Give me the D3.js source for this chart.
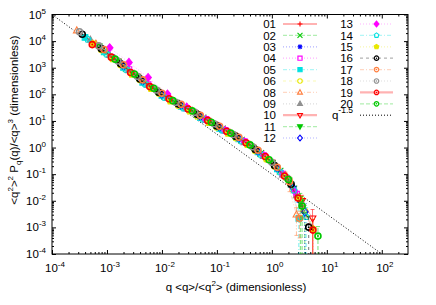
<!DOCTYPE html>
<html>
<head>
<meta charset="utf-8">
<script src="https://cdn.jsdelivr.net/npm/d3@7"></script>
<style>
  body { margin: 0; background: #fff; }
  text { font-family: "Liberation Sans", Arial, sans-serif; fill: #000; }
</style>
</head>
<body>
<div id="chart"></div>
<script>
// values, [x, y, optional error]
const s01 = [[6.3e-4,7.9e3],[1.41e-3,2.0e3],[3.16e-3,5.5e2],[7.1e-3,1.6e2],[1.58e-2,55],[3.55e-2,23],[7.9e-2,8.5],[0.178,3.3],[0.40,1.2],[0.89,0.34],[2.0,0.06],[3.55,6.3e-3]];
const s02 = [[1.0e-3,3.6e3],[2.24e-3,9.5e2],[5.0e-3,2.7e2],[1.12e-2,85],[2.51e-2,34],[5.6e-2,13],[0.126,5.0],[0.28,1.9],[0.63,0.60],[1.41,0.13],[2.51,0.028],[3.98,3.2e-3,3.5e-3]];
const s03 = [[1.26e-3,2.5e3],[2.82e-3,6.6e2],[6.3e-3,1.9e2],[1.41e-2,63],[3.16e-2,26],[7.1e-2,9.8],[0.158,3.8],[0.355,1.4],[0.79,0.42],[1.78,0.078],[3.16,0.0105]];
const s04 = [[2.51e-3,8.5e2],[5.6e-3,2.3e2],[1.26e-2,76],[2.82e-2,30],[6.3e-2,11.5],[0.141,4.4],[0.316,1.66],[0.71,0.50],[1.58,0.10],[2.82,0.018]];
const s05 = [[3.98e-4,1.38e4],[8.9e-4,3.9e3],[2.0e-3,1.02e3],[4.47e-3,2.8e2],[1.0e-2,91],[2.24e-2,35],[5.0e-2,13.5],[0.112,5.2],[0.251,2.1],[0.56,0.69],[1.26,0.158],[2.24,0.040],[3.1,2.2e-3,3e-3]];
const s06 = [[7.9e-4,4.7e3],[1.78e-3,1.26e3],[3.98e-3,3.5e2],[8.9e-3,1.07e2],[2.0e-2,38],[4.47e-2,15],[0.10,5.8],[0.224,2.3],[0.50,0.76],[1.12,0.20],[2.24,0.040],[3.98,4.0e-3]];
const s08 = [[2.82e-4,2.5e4],[6.3e-4,7.9e3],[1.41e-3,2.1e3],[3.16e-3,5.8e2],[7.1e-3,1.66e2],[1.58e-2,58],[3.55e-2,24],[7.9e-2,8.9],[0.178,3.5],[0.40,1.26],[0.89,0.35],[1.78,0.089,0.03],[2.8,3.0e-3,2.5e-3]];
const s09 = [[5.0e-4,1.12e4],[1.12e-3,3.0e3],[2.51e-3,7.9e2],[5.6e-3,2.24e2],[1.26e-2,72],[2.82e-2,30],[6.3e-2,11.2],[0.141,4.4],[0.316,1.58],[0.71,0.48],[1.58,0.095],[2.82,0.016]];
const s10 = [[1.58e-3,1.7e3],[3.55e-3,4.6e2],[7.9e-3,1.38e2],[1.78e-2,48],[3.98e-2,20],[8.9e-2,7.4],[0.20,3.0],[0.447,1.0],[1.0,0.27],[2.0,0.056],[3.55,0.010,0.006],[5.5,2.2e-3,2.5e-3]];
const s11 = [[7.1e-4,6.3e3],[1.58e-3,1.7e3],[3.55e-3,4.4e2],[7.9e-3,1.32e2],[1.78e-2,49],[3.98e-2,19],[8.9e-2,7.2],[0.20,2.8],[0.447,0.98],[1.0,0.26],[2.0,0.058],[3.3,8.9e-3,0.01]];
const s12 = [[2.0e-3,1.17e3],[4.47e-3,3.2e2],[1.0e-2,1.0e2],[2.24e-2,38],[5.0e-2,14.8],[0.112,5.8],[0.251,2.24],[0.56,0.71],[1.26,0.166],[2.4,0.032],[3.98,3.8e-3,4e-3]];
const s13 = [[1.12e-3,5.6e3],[2.51e-3,1.58e3],[5.6e-3,4.3e2],[1.26e-2,1.02e2],[2.82e-2,33],[6.3e-2,11.2],[0.141,4.4],[0.316,1.66],[0.71,0.50],[1.58,0.10],[2.63,0.022]];
const s14 = [[4.47e-4,1.17e4],[1.0e-3,3.2e3],[2.24e-3,8.5e2],[5.0e-3,2.4e2],[1.12e-2,76],[2.51e-2,30],[5.6e-2,11.5],[0.126,4.5],[0.28,1.74],[0.63,0.55],[1.41,0.12],[2.51,0.025],[4.2,2.5e-3,3e-3]];
const s15 = [[5.6e-4,8.1e3],[1.26e-3,2.1e3],[2.82e-3,5.6e2],[6.3e-3,1.6e2],[1.41e-2,55],[3.16e-2,23],[7.1e-2,8.5],[0.158,3.4],[0.355,1.26],[0.79,0.37],[1.78,0.078],[3.16,0.0126],[5.6,8.9e-4,1.2e-3]];
const s16 = [[3.55e-4,1.8e4],[7.9e-4,5.2e3],[1.78e-3,1.4e3],[3.98e-3,3.8e2],[8.9e-3,1.17e2],[2.0e-2,43],[4.47e-2,17.4],[0.10,6.5],[0.224,2.6],[0.50,0.85],[1.12,0.21],[2.24,0.042],[4.68,1.02e-3,1.5e-3]];
const s17 = [[8.9e-4,4.8e3],[2.0e-3,1.29e3],[4.47e-3,3.5e2],[1.0e-2,1.1e2],[2.24e-2,42],[5.0e-2,16.2],[0.112,6.3],[0.251,2.45],[0.56,0.79],[1.26,0.18],[2.1,0.052,0.03],[3.2,2.2e-3,1.8e-3]];
const s18 = [[3.16e-4,2.24e4],[7.1e-4,6.6e3],[1.58e-3,1.78e3],[3.55e-3,4.8e2],[7.9e-3,1.45e2],[1.78e-2,50],[3.98e-2,21],[8.9e-2,7.8],[0.20,3.1],[0.447,1.07],[1.0,0.28],[1.9,0.071],[3.55,6.6e-3]];
const s19 = [[5.4e-4,7.4e3],[1.2e-3,2.5e3],[2.69e-3,6.6e2],[6.0e-3,1.95e2],[1.35e-2,68],[3.0e-2,28],[6.8e-2,10.5],[0.151,4.1],[0.339,1.51],[0.76,0.46],[1.70,0.085],[3.0,0.0126],[5.6,7.9e-4,1.2e-3]];
const s20 = [[1.41e-3,2.1e3],[3.16e-3,5.8e2],[7.1e-3,1.7e2],[1.58e-2,58],[3.55e-2,24],[7.9e-2,8.9],[0.178,3.5],[0.40,1.26],[0.89,0.35],[2.0,0.063],[3.55,6.3e-3,8e-3],[6.9,4.7e-4,6e-4]];

const seriesNames = ["01","02","03","04","05","06","08","09","10","11","12","13","14","15","16","17","18","19","20"];
const seriesData = [s01,s02,s03,s04,s05,s06,s08,s09,s10,s11,s12,s13,s14,s15,s16,s17,s18,s19,s20];

// reference power law q^-1.5 (prefactor 0.1)
const refCoef = 0.1, refExp = -1.5;
const refLabel = "q";
const refSup = "-1.5";

const xTickExp = [-4, -3, -2, -1, 0, 1, 2];
const yTickExp = [-4, -3, -2, -1, 0, 1, 2, 3, 4, 5];

// styles (gnuplot-like cycle)
const colors = ["#ff0000","#00c800","#0000ff","#ff00ff","#00e0e0","#e8e800","#ff7f3f","#909090",
                "#ff0000","#00c800","#0000ff","#ff00ff","#00e0e0","#e8e800","#000000","#ff7f3f","#909090","#ff0000","#00c800"];
const shapes = ["plus","cross","star","square","square","circle","triUp","triUp","triDown","triDown",
                "diamond","diamond","pentagon","pentagon","circdot","circdot","circdot","circdot","circdot"];
const filled = [0,0,0,0,1,0,0,1,0,1,0,1,0,1,0,0,0,0,0];
const dashes = [null,"4,2","1,2","1,2","4,2,1,2","3,3","4,2,1,2,1,2","1,2",null,"4,2","1,2","1,2","4,2,1,2","1,2","3,3","4,2,1,2","1,2",null,"4,2"];

const W = 436, H = 305;
const plot = { left: 52, right: 408, top: 14.5, bottom: 254 };

const svg = d3.select("#chart").append("svg")
    .attr("width", W).attr("height", H);

const x = d3.scaleLog().domain([1e-4, 300]).range([plot.left, plot.right]);
const y = d3.scaleLog().domain([1e-4, 1e5]).range([plot.bottom, plot.top]);

svg.append("clipPath").attr("id", "clip")
  .append("rect")
    .attr("x", plot.left).attr("y", plot.top)
    .attr("width", plot.right - plot.left).attr("height", plot.bottom - plot.top);

// --- ticks (inward, mirrored) ---
const majX = xTickExp.map(e => Math.pow(10, e));
const majY = yTickExp.map(e => Math.pow(10, e));
const minX = [], minY = [];
xTickExp.forEach(e => { for (let k = 2; k <= 9; k++) { const v = k * Math.pow(10, e); if (v < 300) minX.push(v); } });
yTickExp.slice(0, -1).forEach(e => { for (let k = 2; k <= 9; k++) minY.push(k * Math.pow(10, e)); });

function tickAxis(axisFn, scale, vals, size, tr) {
  const g = svg.append("g").attr("transform", tr)
    .call(axisFn(scale).tickValues(vals).tickSize(-size).tickFormat(""));
  g.select(".domain").remove();
  g.selectAll("line").attr("stroke", "#000");
}
[[majX, 4], [minX, 2]].forEach(([v, s]) => {
  tickAxis(d3.axisBottom, x, v, s, `translate(0,${plot.bottom})`);
  tickAxis(d3.axisTop, x, v, s, `translate(0,${plot.top})`);
});
[[majY, 4], [minY, 2]].forEach(([v, s]) => {
  tickAxis(d3.axisLeft, y, v, s, `translate(${plot.left},0)`);
  tickAxis(d3.axisRight, y, v, s, `translate(${plot.right},0)`);
});

// border
svg.append("rect")
  .attr("x", plot.left).attr("y", plot.top)
  .attr("width", plot.right - plot.left).attr("height", plot.bottom - plot.top)
  .attr("fill", "none").attr("stroke", "#000").attr("stroke-width", 1);

// tick labels "10^n"
function powLabel(sel, e) {
  sel.append("tspan").text("10");
  sel.append("tspan").attr("dy", -5).attr("font-size", 8).text(e);
}
xTickExp.forEach(e => {
  svg.append("text")
    .attr("x", x(Math.pow(10, e)) + 3).attr("y", 272)
    .attr("text-anchor", "middle").attr("font-size", 11.5)
    .call(powLabel, e);
});
yTickExp.forEach(e => {
  svg.append("text")
    .attr("x", 46).attr("y", y(Math.pow(10, e)) + 4)
    .attr("text-anchor", "end").attr("font-size", 11.5)
    .call(powLabel, e);
});

// axis titles
const xt = svg.append("text").attr("x", 236).attr("y", 291)
  .attr("text-anchor", "middle").attr("font-size", 11.5);
xt.append("tspan").text("q <q>/<q");
xt.append("tspan").attr("dy", -5).attr("font-size", 8).text("2");
xt.append("tspan").attr("dy", 5).text("> (dimensionless)");

const yt = svg.append("text").attr("transform", "translate(18,120) rotate(-90)")
  .attr("text-anchor", "middle").attr("font-size", 11.5);
yt.append("tspan").text("<q");
yt.append("tspan").attr("dy", -5).attr("font-size", 8).text("2");
yt.append("tspan").attr("dy", 5).text(">");
yt.append("tspan").attr("dy", -5).attr("font-size", 8).text("2");
yt.append("tspan").attr("dy", 5).text(" P");
yt.append("tspan").attr("dy", 3).attr("font-size", 8).text("q");
yt.append("tspan").attr("dy", -3).text("(q)/<q>");
yt.append("tspan").attr("dy", -5).attr("font-size", 8).text("3");
yt.append("tspan").attr("dy", 5).text(" (dimensionless)");

// --- markers ---
function markerPath(shape, r) {
  switch (shape) {
    case "plus": return `M${-r},0H${r}M0,${-r}V${r}`;
    case "cross": return `M${-r},${-r}L${r},${r}M${-r},${r}L${r},${-r}`;
    case "star": { const d = r * 0.75; return `M${-r},0H${r}M0,${-r}V${r}M${-d},${-d}L${d},${d}M${-d},${d}L${d},${-d}`; }
    case "square": { const s = r * 0.85; return `M${-s},${-s}H${s}V${s}H${-s}Z`; }
    case "triUp": return `M0,${-r * 1.1}L${r},${r * 0.7}L${-r},${r * 0.7}Z`;
    case "triDown": return `M0,${r * 1.1}L${r},${-r * 0.7}L${-r},${-r * 0.7}Z`;
    case "diamond": return `M0,${-r * 1.2}L${r},0L0,${r * 1.2}L${-r},0Z`;
    case "pentagon": {
      const pts = d3.range(5).map(i => { const a = -Math.PI / 2 + i * 2 * Math.PI / 5; return [r * Math.cos(a), r * Math.sin(a)]; });
      return "M" + pts.map(p => p.join(",")).join("L") + "Z";
    }
    default: return `M${r},0A${r},${r} 0 1 1 ${-r},0A${r},${r} 0 1 1 ${r},0Z`;
  }
}
function drawMarker(g, i, cx, cy, scale) {
  const sh = shapes[i], col = colors[i];
  const r = (sh === "circdot" || sh === "circle" ? 3 : 3.3) * scale;
  g.append("path")
    .attr("transform", `translate(${cx},${cy})`)
    .attr("d", markerPath(sh, r))
    .attr("fill", filled[i] ? col : "none")
    .attr("stroke", col)
    .attr("stroke-width", sh === "circdot" ? 1.6 * scale : 1.1);
  if (sh === "circdot") {
    g.append("circle").attr("cx", cx).attr("cy", cy).attr("r", scale).attr("fill", col);
  }
}

// --- data layer ---
const layer = svg.append("g").attr("clip-path", "url(#clip)");

// reference line
layer.append("path")
  .datum([1e-4, 300])
  .attr("d", d3.line().x(d => x(d)).y(d => y(refCoef * Math.pow(d, refExp))))
  .attr("fill", "none").attr("stroke", "#000").attr("stroke-width", 1)
  .attr("stroke-dasharray", "1,2");

const line = d3.line().x(d => x(d[0])).y(d => y(d[1]));

seriesData.forEach((data, i) => {
  const g = layer.append("g");
  g.append("path").datum(data)
    .attr("d", line)
    .attr("fill", "none").attr("stroke", colors[i]).attr("stroke-opacity", 0.3)
    .attr("stroke-width", 1).attr("stroke-dasharray", dashes[i]);
  // error bars
  data.filter(d => d[2]).forEach(d => {
    const cx = x(d[0]);
    const top = y(d[1] + d[2]);
    const bot = d[1] - d[2] > 0 ? y(d[1] - d[2]) : plot.bottom + 2;
    g.append("path")
      .attr("d", `M${cx},${bot}V${top}M${cx - 2},${top}H${cx + 2}` + (d[1] - d[2] > 0 ? `M${cx - 2},${bot}H${cx + 2}` : ""))
      .attr("fill", "none").attr("stroke", colors[i]).attr("stroke-opacity", 0.55)
      .attr("stroke-width", 1).attr("stroke-dasharray", dashes[i]);
  });
  data.forEach(d => drawMarker(g, i, x(d[0]), y(d[1]), 1));
});

// --- legend ---
const leg = svg.append("g");
const rowY = k => 24 + k * 11.4;
function legendRow(k, col, label, i) {
  const tx = col === 0 ? 276 : 353, lx0 = col === 0 ? 283 : 360, lx1 = col === 0 ? 317 : 393;
  const yy = rowY(k);
  leg.append("text").attr("x", tx).attr("y", yy + 4.2).attr("text-anchor", "end")
    .attr("font-size", 11.5).text(label);
  leg.append("line").attr("x1", lx0).attr("x2", lx1).attr("y1", yy).attr("y2", yy)
    .attr("stroke", colors[i]).attr("stroke-opacity", 0.3)
    .attr("stroke-width", dashes[i] ? 1.2 : 2.2)
    .attr("stroke-dasharray", dashes[i]);
  drawMarker(leg, i, (lx0 + lx1) / 2, yy, 0.75);
}
seriesNames.forEach((name, i) => {
  if (i < 11) legendRow(i, 0, name, i);
  else legendRow(i - 11, 1, name, i);
});
// reference entry
{
  const yy = rowY(8);
  const t = leg.append("text").attr("x", 353).attr("y", yy + 4.2).attr("text-anchor", "end").attr("font-size", 11.5);
  t.append("tspan").text(refLabel);
  t.append("tspan").attr("dy", -6).attr("font-size", 8.5).text(refSup);
  leg.append("line").attr("x1", 360).attr("x2", 393).attr("y1", yy).attr("y2", yy)
    .attr("stroke", "#000").attr("stroke-width", 1).attr("stroke-dasharray", "1,2");
}
</script>
</body>
</html>
